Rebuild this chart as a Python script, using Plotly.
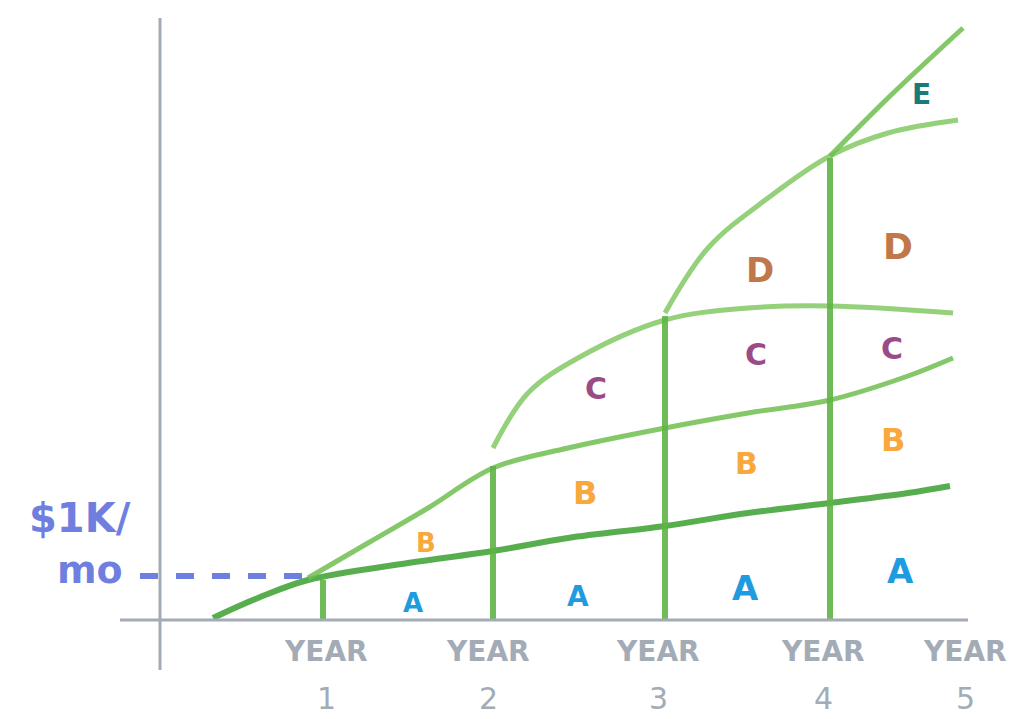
import plotly.graph_objects as go

# x in years, y in $k/mo
def X(px): return (px - 145) / 170
def Y(py): return (612 - py) / 44

curve_a_px = [(205,610),(250,590),(300,572),(400,555),(485,543),(560,530),(657,518),(740,505),(822,495),(900,485),(942,478)]
curve_b_px = [(300,570),(360,535),(420,500),(485,460),(560,440),(657,420),(740,405),(822,392),(900,368),(945,350)]
curve_c_px = [(485,440),(520,385),(570,350),(657,312),(740,300),(822,298),(945,305)]
curve_d_px = [(657,305),(700,240),(760,190),(822,148),(880,125),(950,112)]
curve_e_px = [(822,148),(880,90),(955,20)]
verticals_px = [(315,572),(485,458),(657,308),(822,150)]

letters = [("A",405,595,"#1f9be0",26),("A",570,588,"#1f9be0",28),("A",737,580,"#1f9be0",34),("A",892,563,"#1f9be0",34),
           ("B",418,535,"#f8a83c",26),("B",577,485,"#f8a83c",32),("B",738,455,"#f8a83c",30),("B",885,432,"#f8a83c",32),
           ("C",588,380,"#9a4a86",30),("C",748,346,"#9a4a86",30),("C",884,340,"#9a4a86",30),
           ("D",752,262,"#c0784a",34),("D",890,238,"#c0784a",36),("E",913,86,"#1a7a78",28)]
years = ["1","2","3","4","5"]
year_px = [318,480,650,815,957]

fig = go.Figure()
green = "rgba(110,190,80,0.85)"
for c, col, w in [(curve_a_px,"rgba(70,165,60,0.9)",6),(curve_b_px,green,5),(curve_c_px,"rgba(130,200,100,0.85)",5),
                  (curve_d_px,"rgba(130,200,100,0.85)",5),(curve_e_px,green,5)]:
    fig.add_trace(go.Scatter(x=[X(p[0]) for p in c], y=[Y(p[1]) for p in c], mode="lines",
                             line=dict(color=col, width=w, shape="spline"), hoverinfo="skip"))
for vx, vy in verticals_px:
    fig.add_trace(go.Scatter(x=[X(vx),X(vx)], y=[Y(vy),0], mode="lines", line=dict(color="rgba(95,180,70,0.9)", width=6)))
# axes
fig.add_trace(go.Scatter(x=[X(152),X(152)], y=[Y(10),Y(662)], mode="lines", line=dict(color="#a3acb6", width=3)))
fig.add_trace(go.Scatter(x=[X(112),X(960)], y=[0,0], mode="lines", line=dict(color="#a3acb6", width=3)))
fig.add_trace(go.Scatter(x=[X(132),X(300)], y=[1,1], mode="lines", line=dict(color="#6f7fe0", width=6, dash="dash")))

for t, px, py, col, s in letters:
    fig.add_annotation(x=X(px), y=Y(py), text=t, showarrow=False, font=dict(color=col, size=s, family="DejaVu Sans", weight="bold"))
for yr, px in zip(years, year_px):
    fig.add_annotation(x=X(px), y=Y(643), text="YEAR", showarrow=False, font=dict(color="#a3acb6", size=28, family="DejaVu Sans", weight="bold"))
    fig.add_annotation(x=X(px), y=Y(690), text=yr, showarrow=False, font=dict(color="#a3acb6", size=30, family="DejaVu Sans"))
fig.add_annotation(x=X(72), y=Y(510), text="$1K/", showarrow=False, font=dict(color="#6f7fe0", size=40, family="DejaVu Sans", weight="bold"))
fig.add_annotation(x=X(82), y=Y(562), text="mo", showarrow=False, font=dict(color="#6f7fe0", size=38, family="DejaVu Sans", weight="bold"))

fig.update_layout(width=1020, height=719, margin=dict(l=0,r=0,t=0,b=0), showlegend=False,
                  plot_bgcolor="white", paper_bgcolor="white",
                  xaxis=dict(range=[X(0),X(1020)], visible=False, fixedrange=True),
                  yaxis=dict(range=[Y(719),Y(0)], visible=False, fixedrange=True))
fig.write_html("out.html")
